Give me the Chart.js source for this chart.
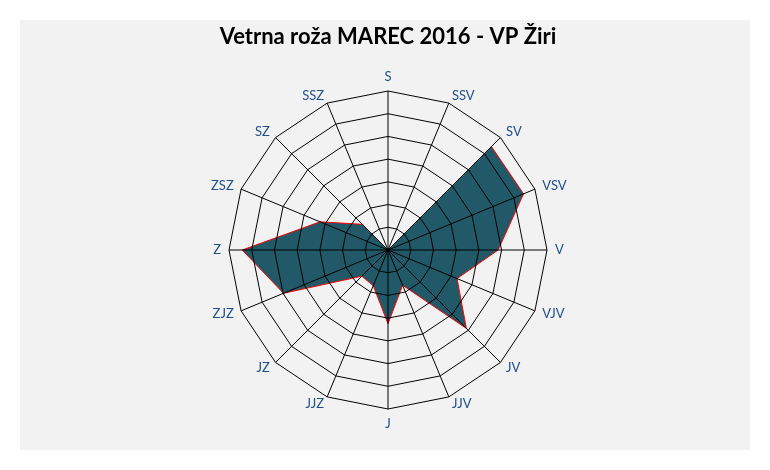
<!DOCTYPE html>
<html>
<head>
<meta charset="utf-8">
<script src="https://cdn.jsdelivr.net/npm/chart.js@4/dist/chart.umd.min.js"></script>
<style>
  html, body { margin: 0; padding: 0; background: #ffffff; }
  #panel { position: absolute; left: 20px; top: 20px; width: 730px; height: 430px; background: #f2f2f2; }
</style>
</head>
<body>
<div id="panel"><canvas id="c"></canvas></div>
<script>
const directions = ['S','SSV','SV','VSV','V','VJV','JV','JJV','J','JJZ','JZ','ZJZ','Z','ZSZ','SZ','SSZ'];
const frequencies = [0, 0, 6.44, 6.46, 4.85, 3.29, 4.88, 1.68, 3.25, 1.7, 1.63, 4.98, 6.42, 3.24, 1.6, 0];
const ringMax = 7;
const ringStep = 1;
const titleText = 'Vetrna roža MAREC 2016 - VP Žiri';

// Excel-like point labels, positioned through the radial scale
const excelLabels = {
  id: 'excelLabels',
  afterDraw(chart) {
    const scale = chart.scales.r;
    const ctx = chart.ctx;
    ctx.save();
    ctx.font = '13px Lato';
    ctx.fillStyle = '#1f4e8c';
    const n = chart.data.labels.length;
    for (let i = 0; i < n; i++) {
      const p = scale.getPointPosition(i, scale.drawingArea + 8);
      const a = (i / n) * 360;
      if (a === 0) { ctx.textAlign = 'center'; ctx.textBaseline = 'bottom'; }
      else if (a === 180) { ctx.textAlign = 'center'; ctx.textBaseline = 'top'; }
      else if (a < 180) { ctx.textAlign = 'left'; ctx.textBaseline = 'middle'; }
      else { ctx.textAlign = 'right'; ctx.textBaseline = 'middle'; }
      ctx.fillText(chart.data.labels[i], p.x, p.y);
    }
    ctx.restore();
  }
};

new Chart(document.getElementById('c'), {
  type: 'radar',
  data: {
    labels: directions,
    datasets: [{
      data: frequencies,
      backgroundColor: '#215968',
      borderColor: '#ff0000',
      borderWidth: 1,
      pointRadius: 0,
      fill: true,
      tension: 0
    }]
  },
  options: {
    responsive: true,
    maintainAspectRatio: false,
    animation: false,
    layout: { padding: { left: 6, right: 0, top: 0, bottom: 40 } },
    plugins: {
      legend: { display: false },
      tooltip: { enabled: false },
      title: {
        display: true,
        text: titleText,
        color: '#000000',
        font: { family: 'Lato', size: 22, weight: 'bold' },
        padding: { top: 4, bottom: 41.5 }
      }
    },
    scales: {
      r: {
        min: 0,
        max: ringMax,
        ticks: { stepSize: ringStep, display: false },
        grid: { color: '#000000', lineWidth: 1, z: 1 },
        angleLines: { color: '#000000', lineWidth: 1 },
        pointLabels: { display: false }
      }
    }
  },
  plugins: [excelLabels]
});
</script>
</body>
</html>
